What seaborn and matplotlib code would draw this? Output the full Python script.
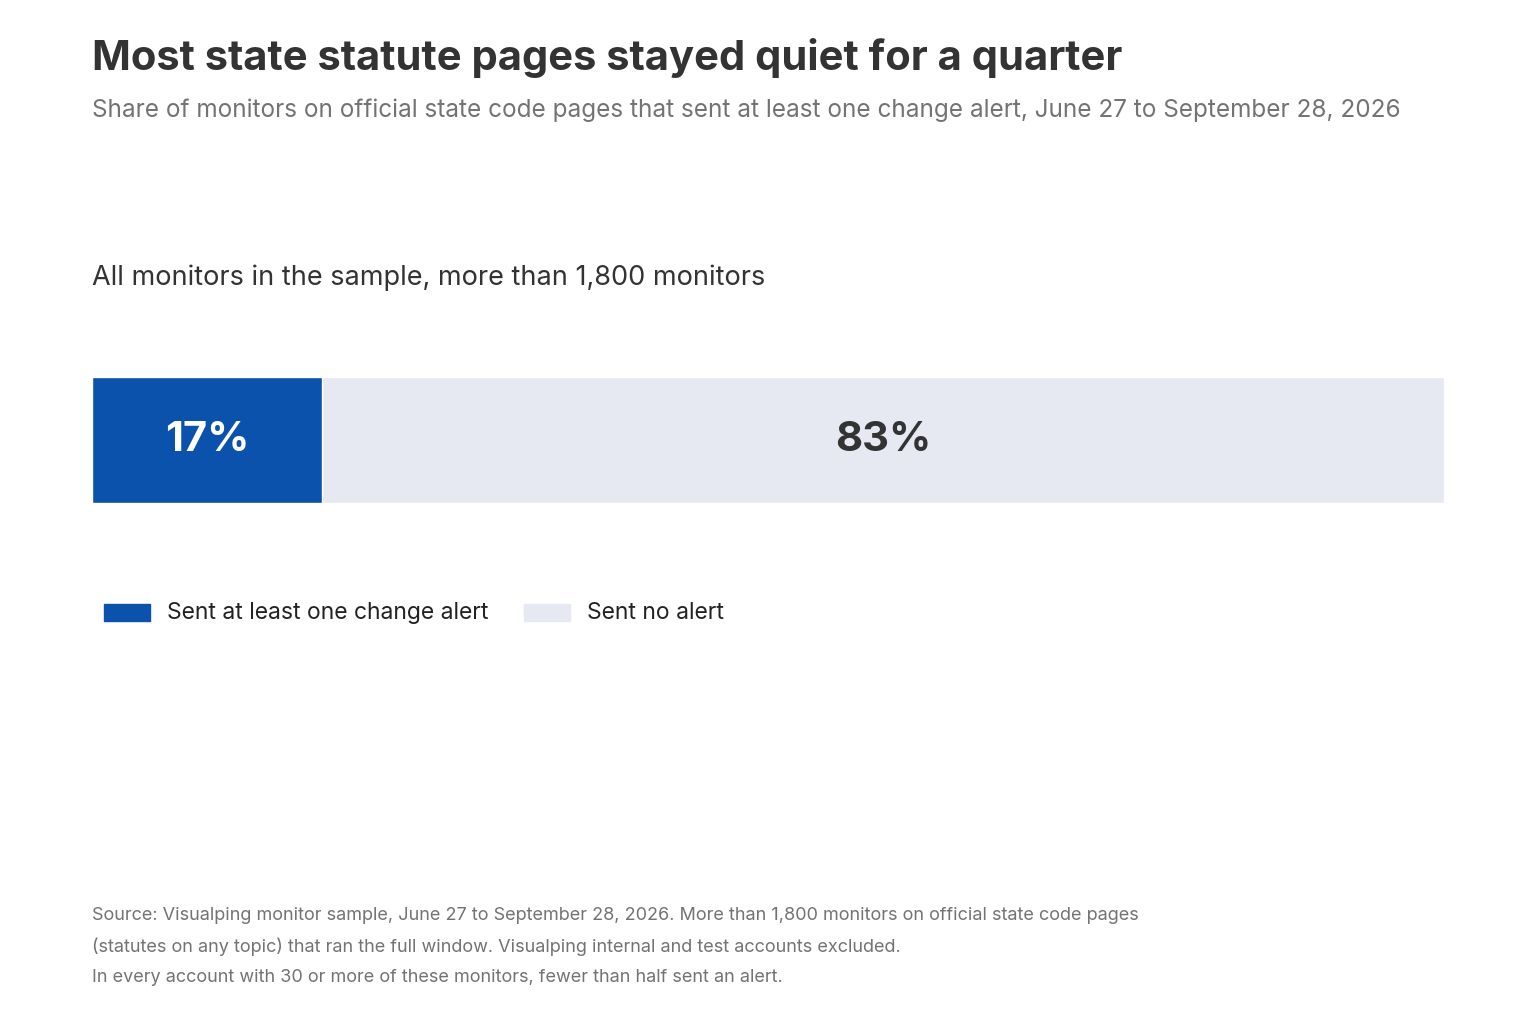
import matplotlib
matplotlib.use("Agg")
import matplotlib.pyplot as plt
import seaborn as sns
import pandas as pd
from matplotlib.patches import Rectangle

categories = ["Sent at least one change alert", "Sent no alert"]
shares = [17, 83]
colors = ["#0b52ad", "#e6e9f1"]

sns.set_theme(style="white")
plt.rcParams['font.family'] = ['Inter', 'DejaVu Sans']

fig = plt.figure(figsize=(15.36, 10.24), dpi=100)
W, H = 1536, 1024
ax = fig.add_axes([92/W, 1-503/H, (1444-92)/W, 126/H])

df = pd.DataFrame({"row": ["All"], "total": [sum(shares)], "first": [shares[0]]})
sns.barplot(data=df, x="total", y="row", color=colors[1], ax=ax, width=1.0, saturation=1, orient="h")
sns.barplot(data=df, x="first", y="row", color=colors[0], ax=ax, width=1.0, saturation=1, orient="h")
ax.set_xlim(0, 100)
ax.set_ylim(0.5, -0.5)
ax.axis("off")
ax.text(shares[0]/2, 0, f"{shares[0]}%", ha="center", va="center", color="white", fontsize=30, fontweight="bold")
ax.text(shares[0] + shares[1]/2, 0, f"{shares[1]}%", ha="center", va="center", color="#333333", fontsize=30, fontweight="bold")

fig.text(92/W, 1-58/H, "Most state statute pages stayed quiet for a quarter", fontsize=30, fontweight="bold", color="#333333", va="center")
fig.text(92/W, 1-110/H, "Share of monitors on official state code pages that sent at least one change alert, June 27 to September 28, 2026", fontsize=17.5, color="#737373", va="center")
fig.text(92/W, 1-278/H, "All monitors in the sample, more than 1,800 monitors", fontsize=19.5, color="#333333", va="center")

# legend
lx = [104, 524]
for x0, lab, c in zip(lx, categories, colors):
    fig.patches.append(Rectangle((x0/W, 1-621/H), 46/W, 17/H, transform=fig.transFigure, color=c))
    fig.text((x0+63)/W, 1-613/H, lab, fontsize=16.5, color="#222222", va="center")

src = ["Source: Visualping monitor sample, June 27 to September 28, 2026. More than 1,800 monitors on official state code pages",
       "(statutes on any topic) that ran the full window. Visualping internal and test accounts excluded.",
       "In every account with 30 or more of these monitors, fewer than half sent an alert."]
for i, s in enumerate(src):
    fig.text(92/W, 1-(916+30.5*i)/H, s, fontsize=13, color="#737373", va="center")

fig.savefig("out.png", dpi=100)
